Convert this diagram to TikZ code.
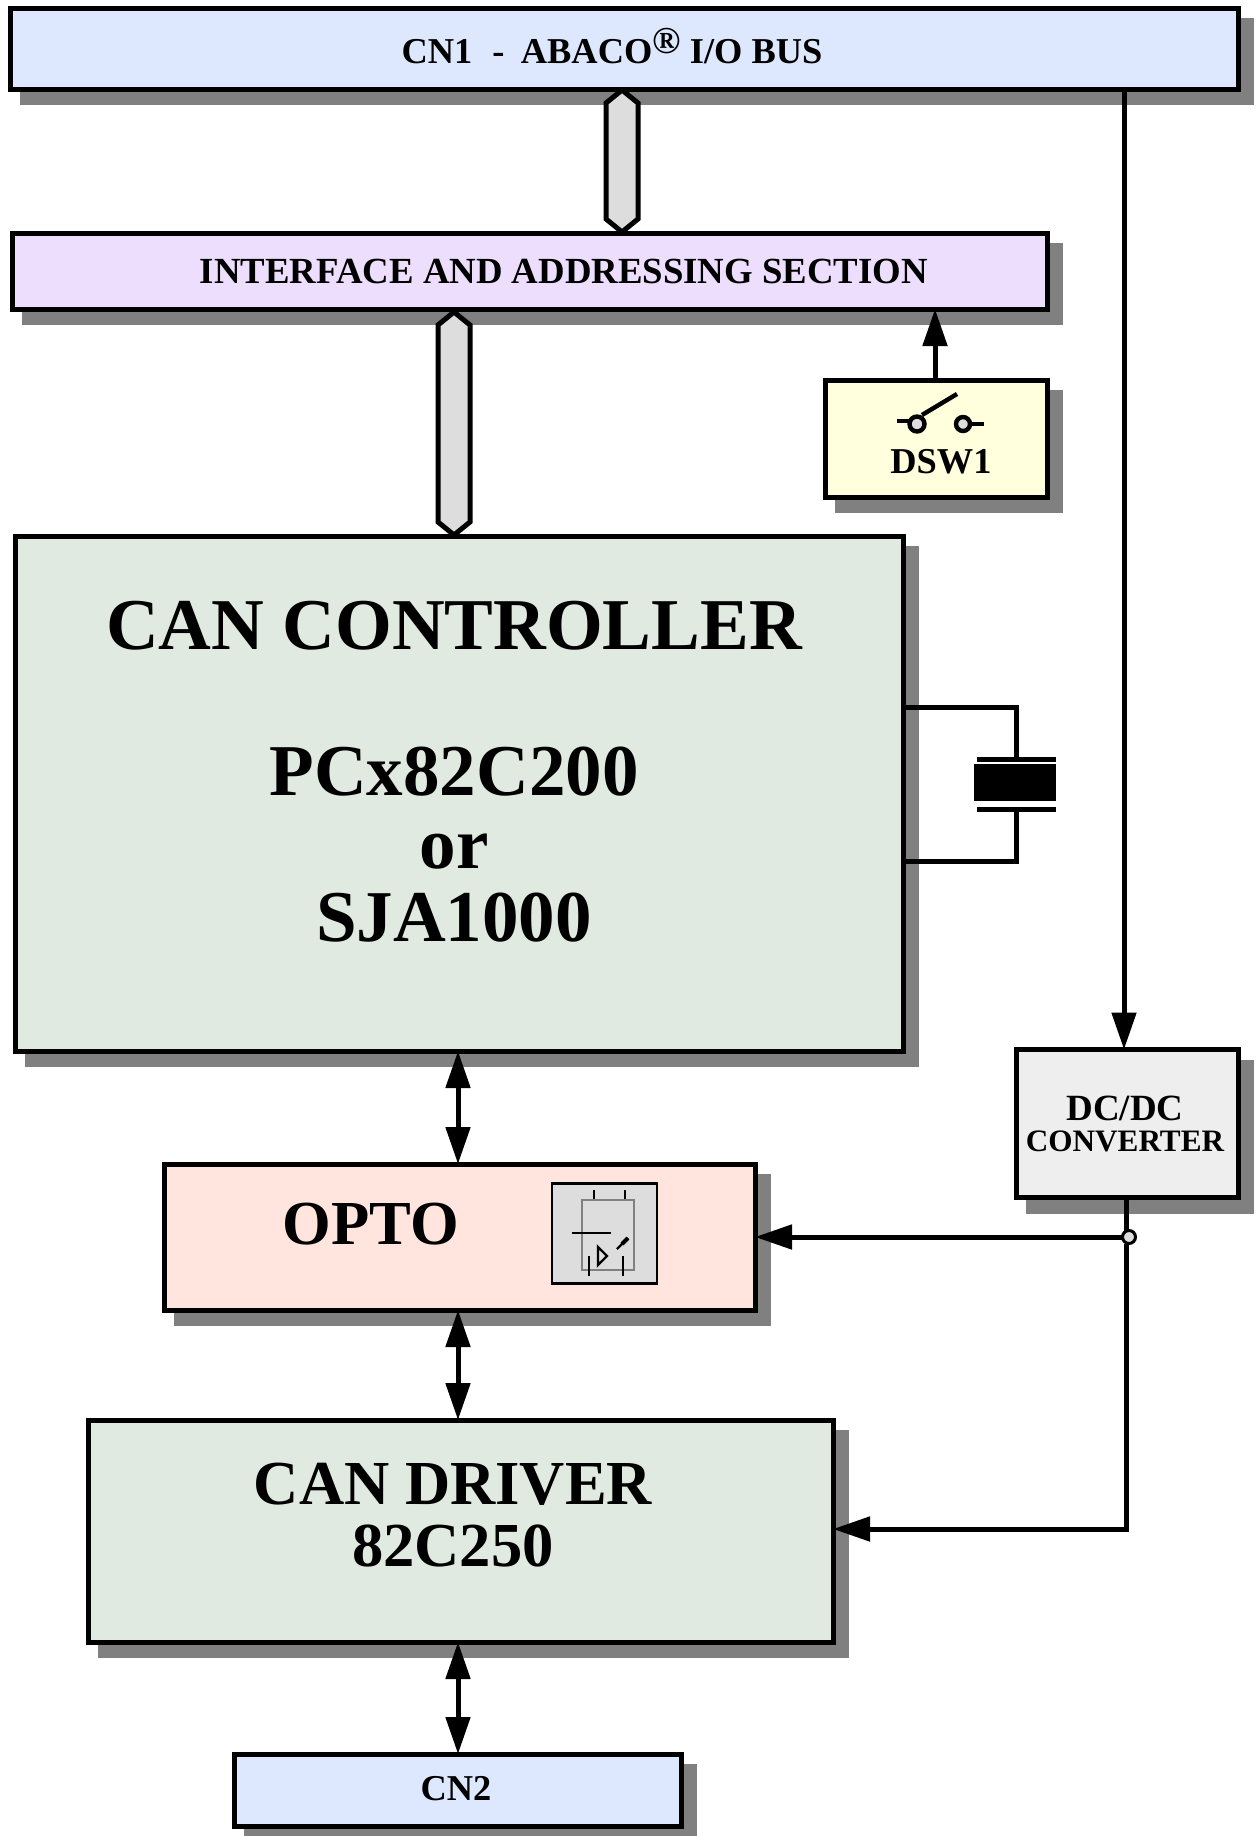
\documentclass[tikz,border=0pt]{standalone}
\usepackage{fontspec}
\setmainfont{Liberation Serif}
\usetikzlibrary{arrows.meta,shadows,shapes.symbols}
\definecolor{busblue}{HTML}{DDE8FF}
\definecolor{ifviolet}{HTML}{ECDEFC}
\definecolor{dswyellow}{HTML}{FFFFDD}
\definecolor{cangreen}{HTML}{E0EAE0}
\definecolor{optopink}{HTML}{FFE5DD}
\definecolor{dcgray}{HTML}{EEEEEE}
\definecolor{partgray}{HTML}{DDDDDD}
\definecolor{shadowgray}{HTML}{808080}
\begin{document}
\begin{tikzpicture}[x=.5pt,y=-.5pt,line width=2.5pt,>={Triangle[length=18.5pt,width=12pt]}]
\tikzstyle{box}=[rectangle,draw=black,line width=2.5pt,inner sep=0pt,outer sep=0pt,
  general shadow={shadow xshift=6.5pt,shadow yshift=-6.5pt,fill=shadowgray,draw=shadowgray,line width=3pt}]
\tikzstyle{txt}=[inner sep=0pt,anchor=base,align=center,font=\bfseries]
\tikzstyle{huge}=[txt,font=\fontsize{36.5}{36.5}\selectfont\bfseries]
\tikzstyle{big}=[txt,font=\fontsize{31.3}{31}\selectfont\bfseries]
\tikzstyle{mid}=[txt,font=\fontsize{18.2}{18}\selectfont\bfseries]
\tikzstyle{small}=[txt,font=\fontsize{15.6}{15.5}\selectfont\bfseries]
\tikzstyle{bus}=[signal,signal to=north and south,signal pointer angle=102,draw=black,fill=partgray,line width=2.5pt,inner sep=0pt,outer sep=0pt,minimum width=16pt]
\tikzstyle{thin}=[line width=1.2pt]
\useasboundingbox (0,0) rectangle (1255,1836);
% boxes
\node[box,fill=busblue,minimum width=614pt,minimum height=40.5pt] (cn1) at (624,48.5) {};
\node[box,fill=ifviolet,minimum width=517.5pt,minimum height=38pt] (iface) at (529.5,271) {};
\node[box,fill=dswyellow,minimum width=111pt,minimum height=58.5pt] (dsw) at (936,438.5) {};
\node[box,fill=cangreen,minimum width=444pt,minimum height=257.5pt] (ctrl) at (459,793.5) {};
\node[box,fill=dcgray,minimum width=111pt,minimum height=74pt] (dcdc) at (1127,1123.5) {};
\node[box,fill=optopink,minimum width=295.5pt,minimum height=73pt] (opto) at (459.5,1237) {};
\node[box,fill=cangreen,minimum width=372.5pt,minimum height=111pt] (driver) at (460.5,1531) {};
\node[box,fill=busblue,minimum width=223.5pt,minimum height=36pt] (cn2) at (457.5,1790) {};
% texts
\node[mid] (cn1text) at (612,63) {CN1\hspace{.55em}-\hspace{.45em}ABACO\raisebox{5pt}{\fontsize{19}{18}\selectfont ®} I/O BUS};
\node[mid,font=\fontsize{18.4}{18}\selectfont\bfseries] (iftext) at (564,283) {INTERFACE AND ADDRESSING SECTION};
\node[mid] (dswtext) at (941,473) {DSW1};
\node[huge] (ctrltext) at (454,941) {CAN CONTROLLER\\[36.5pt]PCx82C200\\or\\SJA1000};
\node[small] (dctext) at (1125,1151) {\fontsize{18.5}{15.5}\selectfont DC/DC\\CONVERTER};
\node[big] (optotext) at (371,1244) {OPTO};
\node[big] (drvtext) at (453,1566) {CAN DRIVER\\82C250};
\node[mid] (cn2text) at (456,1800) {CN2};
% buses
\node[bus,minimum height=58pt] (bus1) at (622,161) {};
\node[bus,minimum height=98.5pt] (bus2) at (454,423.5) {};
% connectors
\coordinate (canline) at (458,0);
\coordinate (pwrline) at (1124,0);
\coordinate (dswline) at (935,0);
\coordinate (xtal) at (1016,0);
\draw[->] (dsw.north -| dswline) -- (iface.south -| dswline);
\draw[->] (cn1.south -| pwrline) -- (dcdc.north -| pwrline);
\draw[<->] (ctrl.south -| canline) -- (opto.north -| canline);
\draw[<->] (opto.south -| canline) -- (driver.north -| canline);
\draw[<->] (driver.south -| canline) -- (cn2.north -| canline);
\node[circle,draw=black,fill=partgray,line width=1.5pt,inner sep=0pt,outer sep=0pt,minimum size=6.5pt] (dot) at (1129,1237) {};
\draw[->] (dot.west) -- (opto.east |- dot);
\draw (dcdc.south -| pwrline) ++(2,0) coordinate (pwrout) -- (pwrout |- dot.north);
\coordinate (drvin) at (1126,1529);
\draw[->] (dot.south -| drvin) -- (drvin) -- (driver.east |- drvin);
% crystal
\node[fill=black,inner sep=0pt,minimum width=41pt,minimum height=18.5pt] (xbody) at (1015,782.5) {};
\node[fill=black,inner sep=0pt,minimum width=39.5pt,minimum height=2.5pt] (xtop) at (1016.5,759) {};
\node[fill=black,inner sep=0pt,minimum width=39.5pt,minimum height=2.5pt] (xbot) at (1016.5,809) {};
\coordinate (xt) at (ctrl.east |- 0,707);
\coordinate (xb) at (ctrl.east |- 0,861);
\draw (xt) -- (xt -| xtal) -- (xtop.center -| xtal);
\draw (xb) -- (xb -| xtal) -- (xbot.center -| xtal);
% switch
\node[circle,draw=black,fill=partgray,line width=2.2pt,inner sep=0pt,outer sep=0pt,minimum size=7.5pt] (sw1) at (917,424) {};
\node[circle,draw=black,fill=partgray,line width=2.2pt,inner sep=0pt,outer sep=0pt,minimum size=7pt] (sw2) at (963,424) {};
\coordinate (swl) at (897,421);
\coordinate (swr) at (984,424);
\coordinate (swa) at (922,415);
\coordinate (swb) at (957,394);
\draw[line width=2.2pt] (swl) -- (swl -| sw1.west);
\draw[line width=2.2pt] (sw2.east) -- (swr);
\draw[line width=2.2pt] (swa) -- (swb);
% opto symbol
\node[draw=black,fill=partgray,line width=1.3pt,inner sep=0pt,minimum width=52.5pt,minimum height=50pt] (icon) at (604.5,1233.5) {};
\node[draw=shadowgray,line width=1pt,inner sep=0pt,minimum width=26pt,minimum height=35pt] (chip) at (607.5,1234.5) {};
\coordinate (pa) at (594,0);
\coordinate (pb) at (625,0);
\coordinate (pc) at (589,0);
\coordinate (pd) at (623,0);
\draw[thin] (chip.north -| pa) -- ++(0,-9);
\draw[thin] (chip.north -| pb) -- ++(0,-9);
\draw[thin] (pc |- 0,1256) -- (pc |- 0,1276);
\draw[thin] (pd |- 0,1256) -- (pd |- 0,1276);
\draw[thin] (572,1233) -- (611,1233);
\draw[thin] (598,1247) -- (607,1256) -- (598,1265) -- cycle;
\draw[thin] (617,1249) -- (628,1238);
\draw[line width=2pt] (622,1244) -- (628,1238);
\end{tikzpicture}
\end{document}
